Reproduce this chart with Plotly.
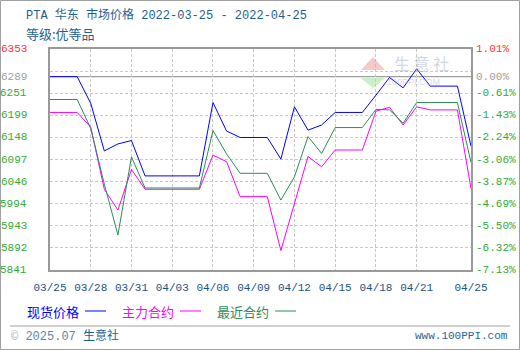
import plotly.graph_objects as go
import pandas as pd

# ---- data ----
dates = pd.date_range("2022-03-25", "2022-04-25", freq="D")
spot = [6289, 6289, 6289, 6227, 6117, 6133, 6141, 6059, 6059, 6059, 6059, 6059,
        6229, 6163, 6148, 6148, 6148, 6098, 6219, 6165, 6177, 6206, 6206, 6206,
        6246, 6287, 6263, 6307, 6267, 6267, 6267, 6128]
main_contract = [6206, 6206, 6206, 6172, 6028, 5980, 6074, 6028, 6028, 6028, 6028, 6028,
                 6107, 6092, 6011, 6011, 6011, 5886, 5992, 6104, 6080, 6119, 6119, 6119,
                 6209, 6218, 6177, 6219, 6212, 6212, 6212, 6030]
near_contract = [6236, 6236, 6236, 6169, 6040, 5922, 6103, 6031, 6031, 6031, 6031, 6031,
                 6164, 6110, 6065, 6065, 6065, 6003, 6057, 6150, 6111, 6171, 6171, 6171,
                 6213, 6212, 6181, 6229, 6229, 6229, 6229, 6090]

series_names = ["现货价格", "主力合约", "最近合约"]
series_colors = ["#0000ff", "#ff00ff", "#2e8b57"]

x_tick_vals = ["2022-03-25", "2022-03-28", "2022-03-31", "2022-04-03", "2022-04-06",
               "2022-04-09", "2022-04-12", "2022-04-15", "2022-04-18", "2022-04-21",
               "2022-04-25"]
x_tick_text = ["03/25", "03/28", "03/31", "04/03", "04/06", "04/09", "04/12",
               "04/15", "04/18", "04/21", "04/25"]

y_min, y_max, base = 5841, 6353, 6289
y_grid = [y_min + (y_max - y_min) / 10 * k for k in range(11)]
left_label_text = ["6353", "6289", "6251", "6199", "6148", "6097", "6046", "5994", "5943", "5892", "5841"]
right_label_text = ["1.01%", "0.00%", "-0.61%", "-1.43%", "-2.24%", "-3.06%", "-3.87%",
                    "-4.69%", "-5.50%", "-6.32%", "-7.13%"]
label_colors = ["#ff3333", "#a0a0a0"] + ["#33aa33"] * 9

# ---- layout geometry ----
W, H = 520, 350
L, R, T, B = 50, 471, 49, 270


def px(x):
    return (x - L) / (R - L)


def py(y):
    return (B - y) / (B - T)


MONO = "Liberation Mono, DejaVu Sans Mono, Noto Sans CJK SC, monospace"
CJK = "SimSun, Noto Sans CJK SC, sans-serif"

fig = go.Figure()
for name, vals, col in zip(series_names, [spot, main_contract, near_contract], series_colors):
    fig.add_trace(go.Scatter(x=dates, y=vals, mode="lines", name=name,
                             line=dict(color=col, width=1), showlegend=False))

annotations = []
# y labels: top value, base value, then the grid levels below the base
label_y = [y_max, base] + [y_grid[k] for k in range(8, -1, -1)]
for txt, yv, c in zip(left_label_text, label_y, label_colors):
    annotations.append(dict(x=px(29), xref="paper", y=yv, yref="y", text=txt, showarrow=False,
                            xanchor="right", yanchor="middle",
                            font=dict(family=MONO, size=11, color=c)))
for txt, yv, c in zip(right_label_text, label_y, label_colors):
    annotations.append(dict(x=px(474), xref="paper", y=yv, yref="y", text=txt, showarrow=False,
                            xanchor="left", yanchor="middle",
                            font=dict(family=MONO, size=11, color=c)))

# title lines
annotations.append(dict(x=px(24), xref="paper", y=py(15), yref="paper",
                        text="PTA 华东 市场价格 2022-03-25 - 2022-04-25", showarrow=False,
                        xanchor="left", yanchor="middle",
                        font=dict(family=MONO, size=12, color="#1f5f8f")))
annotations.append(dict(x=px(24), xref="paper", y=py(33), yref="paper",
                        text="等级:优等品", showarrow=False,
                        xanchor="left", yanchor="middle",
                        font=dict(family=CJK, size=13, color="#1f5f8f")))

# legend (text + line segments)
leg_text_x = [25, 120, 215]
shapes = []
for name, col, lx in zip(series_names, series_colors, leg_text_x):
    annotations.append(dict(x=px(lx), xref="paper", y=py(311), yref="paper", text=name,
                            showarrow=False, xanchor="left", yanchor="middle",
                            font=dict(family=CJK, size=13, color=col)))
    shapes.append(dict(type="line", xref="paper", yref="paper",
                       x0=px(lx + 60), x1=px(lx + 81), y0=py(311), y1=py(311),
                       line=dict(color=col, width=1)))

# footer
annotations.append(dict(x=px(9), xref="paper", y=py(336), yref="paper",
                        text="<span style='color:#a8b8cc'>©</span> <span style='color:#5f86aa'>2025.07</span> <span style='color:#1f5f8f'>生意社</span>",
                        showarrow=False, xanchor="left", yanchor="middle",
                        font=dict(family=MONO, size=12, color="#1f5f8f")))
annotations.append(dict(x=px(510), xref="paper", y=py(336), yref="paper",
                        text="www.100PPI.com", showarrow=False, xanchor="right", yanchor="middle",
                        font=dict(family=MONO, size=11, color="#2a6496")))

# watermark
annotations.append(dict(x=px(421), xref="paper", y=py(63), yref="paper", text="生 意 社",
                        showarrow=False, xanchor="center", yanchor="middle",
                        font=dict(family=CJK, size=16, color="rgba(170,178,210,0.55)")))
annotations.append(dict(x=px(413), xref="paper", y=py(82), yref="paper", text="100PPI.COM",
                        showarrow=False, xanchor="center", yanchor="middle",
                        font=dict(family="Liberation Sans, sans-serif", size=9,
                                  color="rgba(170,178,210,0.5)")))
shapes.append(dict(type="path", xref="paper", yref="paper",
                   path=f"M {px(361)} {py(70)} L {px(373)} {py(57)} L {px(385)} {py(70)} Z",
                   fillcolor="rgba(240,150,150,0.5)", line=dict(width=0)))
shapes.append(dict(type="path", xref="paper", yref="paper",
                   path=f"M {px(361)} {py(78)} L {px(373)} {py(88)} L {px(385)} {py(78)} Z",
                   fillcolor="rgba(150,220,150,0.5)", line=dict(width=0)))

# 0% base line (solid gray)
shapes.append(dict(type="line", xref="paper", yref="y", x0=0, x1=1, y0=base, y1=base,
                   line=dict(color="#a0a0a0", width=1.2), layer="below"))
# separator and outer border
shapes.append(dict(type="line", xref="paper", yref="paper", x0=px(10), x1=px(510),
                   y0=py(326), y1=py(326), line=dict(color="#a0a0a0", width=1)))
shapes.append(dict(type="rect", xref="paper", yref="paper", x0=px(0.5), x1=px(519.5),
                   y0=py(0.5), y1=py(349.5), line=dict(color="#a0a0a0", width=1)))

fig.update_layout(
    width=W, height=H,
    margin=dict(l=L, r=W - R, t=T, b=H - B, pad=0),
    paper_bgcolor="white", plot_bgcolor="white",
    showlegend=False,
    annotations=annotations, shapes=shapes,
    xaxis=dict(type="date", range=["2022-03-25", "2022-04-25"],
               tickvals=x_tick_vals, ticktext=x_tick_text,
               tickfont=dict(family=MONO, size=11, color="#1a5283"),
               ticks="outside", ticklen=6, tickcolor="rgba(0,0,0,0)",
               showgrid=True, gridcolor="#c8c8c8", griddash="3px,2px", gridwidth=1,
               showline=True, linecolor="#999999", linewidth=1.5, mirror=True,
               zeroline=False, fixedrange=True),
    yaxis=dict(range=[y_min, y_max], tickvals=y_grid, showticklabels=False,
               showgrid=True, gridcolor="#c8c8c8", griddash="3px,2px", gridwidth=1,
               showline=True, linecolor="#999999", linewidth=1.5, mirror=True,
               zeroline=False, fixedrange=True),
)

fig.write_html("out.html")
